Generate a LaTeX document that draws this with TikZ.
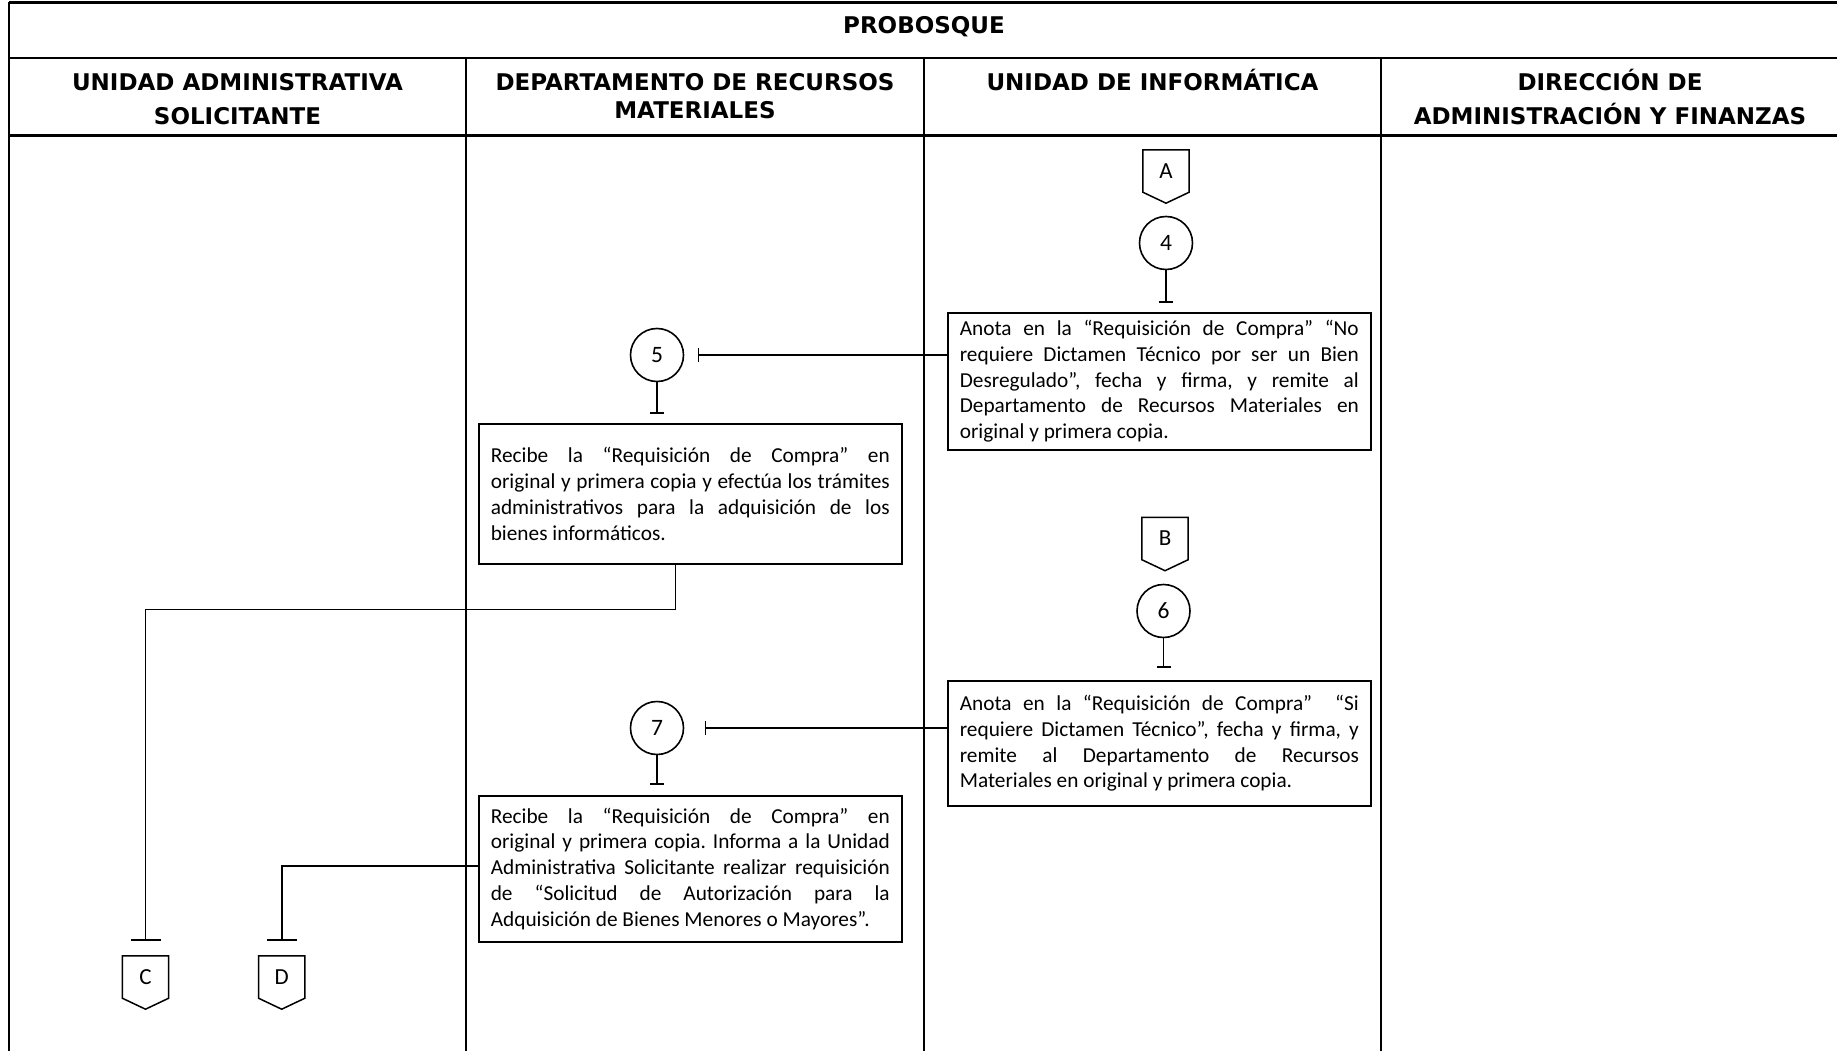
\documentclass[tikz,border=0pt]{standalone}
\usepackage{fontspec}
\setmainfont{Carlito}
\newfontfamily\hdfont{DejaVu Sans}
\usetikzlibrary{arrows.meta,calc}
\begin{document}
\begin{tikzpicture}[x=1pt,y=-1pt,
  lane/.style={line width=2pt},
  lanethick/.style={line width=3pt},
  hd/.style={font=\hdfont\bfseries\fontsize{23}{26}\selectfont, anchor=base, inner sep=0pt},
  box/.style={draw, line width=1.6pt, text width=399pt, inner xsep=12pt, inner ysep=0pt,
    align=justify, font=\fontsize{21.3}{25.8}\selectfont, minimum height=#1, anchor=north west,
    execute at begin node={\frenchspacing\tolerance=9999\hyphenpenalty=10000}},
  circ/.style={circle, draw, line width=1.6pt, minimum size=53pt, inner sep=0pt,
    font=\fontsize{23.5}{26}\selectfont},
  conn/.style={minimum width=46pt, minimum height=42pt, inner sep=0pt,
    font=\fontsize{23}{26}\selectfont},
  pent/.style={line width=1.5pt, line join=miter},
  flow/.style={line width=1.6pt, -{Bar[width=14pt]}},
  flowbig/.style={line width=1.6pt, -{Bar[width=30pt]}}
]
\useasboundingbox (0,0) rectangle (1837,1051);
\fill[white] (0,0) rectangle (1837,1051);

% table frame
\draw[lanethick] (9,3) -- (1850,3);
\draw[lane] (9,2) -- (9,1060);
\draw[lane] (9,58) -- (1850,58);
\draw[lanethick] (9,136) -- (1850,136);
\foreach \x in {466,924,1381} \draw[lane] (\x,58) -- (\x,1060);

% headers
\node[hd] (h0) at (924,34) {PROBOSQUE};
\node[hd] (h1a) at (237.5,91) {UNIDAD ADMINISTRATIVA};
\node[hd] (h1b) at (237.5,125) {SOLICITANTE};
\node[hd] (h2a) at (695,91) {DEPARTAMENTO DE RECURSOS};
\node[hd] (h2b) at (695,119) {MATERIALES};
\node[hd] (h3a) at (1152.5,91) {UNIDAD DE INFORMÁTICA};
\node[hd] (h4a) at (1610,91) {DIRECCIÓN DE};
\node[hd] (h4b) at (1610,125) {ADMINISTRACIÓN Y FINANZAS};

% connectors (off-page)
\node[conn] (A) at (1166,171) {A};
\node[conn] (B) at (1165,538.5) {B};
\node[conn] (C) at (145.5,977) {C};
\node[conn] (D) at (281.7,977) {D};
\foreach \n in {A,B,C,D}
  \draw[pent] (\n.north west) -- (\n.north east) -- (\n.south east) -- ($(\n.south)+(0,11)$) -- (\n.south west) -- cycle;

% circles
\node[circ] (c4) at (1166,243) {4};
\node[circ] (c5) at (657,355) {5};
\node[circ] (c6) at (1163.5,611) {6};
\node[circ] (c7) at (657,728) {7};

% boxes
\node[box=137pt] (b4) at (947,312) {Anota en la “Requisición de Compra” “No\linebreak
requiere Dictamen Técnico por ser un Bien\linebreak
Desregulado”, fecha y firma, y remite al\linebreak
Departamento de Recursos Materiales en\linebreak
original y primera copia.};
\node[box=140pt] (b5) at (478,423) {Recibe la “Requisición de Compra” en\linebreak
original y primera copia y efectúa los trámites\linebreak
administrativos para la adquisición de los\linebreak
bienes informáticos.};
\node[box=125pt] (b6) at (947,680) {Anota en la “Requisición de Compra”\ \ “Si\linebreak
requiere Dictamen Técnico”, fecha y firma, y\linebreak
remite al Departamento de Recursos\linebreak
Materiales en original y primera copia.};
\node[box=146pt] (b7) at (478,795) {Recibe la “Requisición de Compra” en\linebreak
original y primera copia. Informa a la Unidad\linebreak
Administrativa Solicitante realizar requisición\linebreak
de “Solicitud de Autorización para la\linebreak
Adquisición de Bienes Menores o Mayores”.};

% flow lines
\draw[flow, shorten >=9pt] (c4) -- (c4 |- b4.north);
\draw[flow, shorten >=13.5pt] (b4.west |- c5) -- (c5.east);
\draw[flow, shorten >=9pt] (c5) -- (c5 |- b5.north);
\draw[flowbig, shorten >=15pt] ([xshift=-15pt]b5.south) -- ++(0,45) -| (C.north);
\draw[flow, shorten >=12pt] (c6) -- (c6 |- b6.north);
\draw[flow, shorten >=20.5pt] (b6.west |- c7) -- (c7.east);
\draw[flow, shorten >=10pt] (c7) -- (c7 |- b7.north);
\draw[flowbig, shorten >=15pt] ([yshift=3pt]b7.west) -| (D.north);
\end{tikzpicture}
\end{document}
